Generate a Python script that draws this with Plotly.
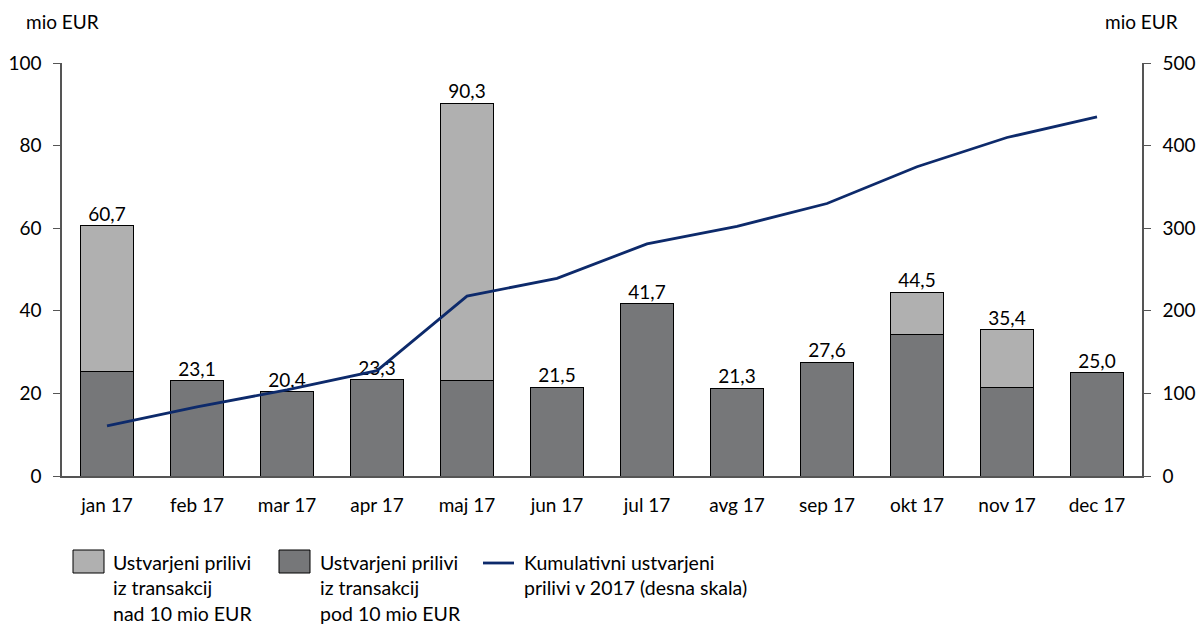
import plotly.graph_objects as go

months = ["jan 17", "feb 17", "mar 17", "apr 17", "maj 17", "jun 17",
          "jul 17", "avg 17", "sep 17", "okt 17", "nov 17", "dec 17"]
totals = [60.7, 23.1, 20.4, 23.3, 90.3, 21.5, 41.7, 21.3, 27.6, 44.5, 35.4, 25.0]
under10 = [25.2, 23.1, 20.4, 23.3, 23.1, 21.5, 41.7, 21.3, 27.6, 34.2, 21.4, 25.0]
over10 = [35.5, 0, 0, 0, 67.2, 0, 0, 0, 0, 10.3, 14.0, 0]
cumulative = [60.7, 83.8, 104.2, 127.5, 217.8, 239.3, 281.0, 302.3, 329.9, 374.4, 409.8, 434.8]

name_over = "Ustvarjeni prilivi<br>iz transakcij<br>nad 10 mio EUR"
name_under = "Ustvarjeni prilivi<br>iz transakcij<br>pod 10 mio EUR"
name_cum = "Kumulativni ustvarjeni<br>prilivi v 2017 (desna skala)"

FONT = "Lato"
C_DARK = "#767779"
C_LIGHT = "#b0b0b0"
C_LINE = "#0d2a6b"
AX = "#555555"

W, H = 1197, 625
L, R, T, B = 62, 55, 63, 149
PW, PH = W - L - R, H - T - B


def px(x):
    return (x - L) / PW


def py(y):
    return (H - B - y) / PH


fig = go.Figure()
fig.add_trace(go.Bar(x=months, y=under10, name=name_under,
                     marker=dict(color=C_DARK, line=dict(color="#000000", width=1))))
fig.add_trace(go.Bar(x=months, y=over10, name=name_over,
                     marker=dict(color=C_LIGHT, line=dict(color="#000000", width=1))))
fig.add_trace(go.Scatter(x=months, y=cumulative, name=name_cum, yaxis="y2",
                         mode="lines", line=dict(color=C_LINE, width=2.8)))
fig.add_trace(go.Scatter(x=months, y=totals, mode="text",
                         text=[f"{v:.1f}".replace(".", ",") for v in totals],
                         textposition="top center",
                         textfont=dict(size=19, color="#000000", family=FONT),
                         showlegend=False, hoverinfo="skip"))

fig.update_layout(
    width=W, height=H,
    barmode="stack", bargap=0.42,
    showlegend=False,
    plot_bgcolor="white", paper_bgcolor="white",
    font=dict(family=FONT, size=19, color="#000000"),
    margin=dict(l=L, r=R, t=T, b=B),
    xaxis=dict(range=[-0.5, len(months) - 0.5], showline=True, linecolor=AX, linewidth=1.5,
               ticks="", showgrid=False, automargin=False, ticklabelstandoff=11),
    yaxis=dict(range=[0, 100], dtick=20, showline=True, linecolor=AX, linewidth=1.5,
               ticks="outside", ticklen=7, tickcolor=AX, showgrid=False, zeroline=False,
               automargin=False, ticklabelstandoff=8),
    yaxis2=dict(range=[0, 500], dtick=100, overlaying="y", side="right", showline=True,
                linecolor=AX, linewidth=1.5, ticks="outside", ticklen=7,
                tickcolor=AX, showgrid=False, zeroline=False, automargin=False,
                ticklabelstandoff=8),
)

ann = [
    dict(text="mio EUR", x=px(24), y=py(21), xanchor="left", yanchor="middle"),
    dict(text="mio EUR", x=px(1180), y=py(21), xanchor="right", yanchor="middle"),
]
shapes = []
# manual legend
legend_items = [
    ("rect", C_LIGHT, name_over, 73, 111),
    ("rect", C_DARK, name_under, 279, 318),
    ("line", C_LINE, name_cum, 483, 522),
]
for kind, color, name, sx, tx in legend_items:
    if kind == "rect":
        shapes.append(dict(type="rect", xref="paper", yref="paper",
                           x0=px(sx), x1=px(sx + 31), y0=py(550), y1=py(573),
                           fillcolor=color, line=dict(color="#000000", width=1)))
    else:
        shapes.append(dict(type="line", xref="paper", yref="paper",
                           x0=px(sx), x1=px(sx + 31), y0=py(563), y1=py(563),
                           line=dict(color=color, width=2.8)))
    ann.append(dict(text=name, x=px(tx), y=py(549), xanchor="left", yanchor="top",
                    align="left", font=dict(size=19.5)))

for a in ann:
    a.update(xref="paper", yref="paper", showarrow=False)
fig.update_layout(annotations=ann, shapes=shapes)
fig.write_html("out.html", config={"displayModeBar": False},
               post_script="document.body.style.margin='0';document.body.style.overflow='hidden';")
